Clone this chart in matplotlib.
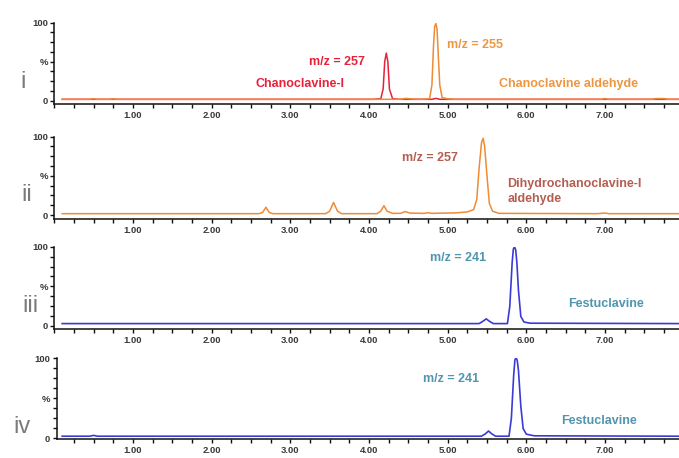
import matplotlib
matplotlib.use("Agg")
import matplotlib.pyplot as plt
from matplotlib.ticker import MultipleLocator, FixedLocator, FixedFormatter

# ----------------------------
# Chromatogram traces (time in min, relative intensity in %)
# ----------------------------
# i: Chanoclavine-I (m/z 257) and chanoclavine aldehyde (m/z 255)
i_red_t = [0.10, 4.05, 4.15, 4.18, 4.20, 4.22, 4.24, 4.26, 4.30, 4.40, 4.80, 4.85, 4.90, 7.94]
i_red_y = [1.8, 1.8, 2.5, 15, 50, 61, 50, 15, 2.5, 1.8, 1.8, 3.0, 1.8, 1.8]
i_org_t = [0.10, 0.45, 0.50, 0.55, 0.70, 0.75, 0.80, 4.40, 4.47, 4.55, 4.65, 4.77, 4.80, 4.82,
           4.835, 4.85, 4.865, 4.88, 4.90, 4.93, 5.00, 5.10, 6.95, 7.00, 7.05, 7.60, 7.65,
           7.75, 7.80, 7.94]
i_org_y = [1.8, 1.8, 2.6, 1.8, 1.8, 2.5, 1.8, 1.8, 3.0, 2.2, 1.8, 2.5, 20, 70,
           95, 99, 92, 60, 20, 4.0, 2.5, 1.8, 1.8, 2.8, 1.8, 1.8, 2.8,
           2.8, 1.8, 1.8]

# ii: Dihydrochanoclavine-I aldehyde (m/z 257)
ii_t = [0.10, 2.60, 2.65, 2.69, 2.73, 2.78, 3.45, 3.50, 3.55, 3.60, 3.65, 4.10, 4.15, 4.19,
        4.23, 4.30, 4.40, 4.46, 4.52, 4.70, 4.75, 4.80, 5.10, 5.25, 5.33, 5.37, 5.40, 5.43,
        5.45, 5.47, 5.50, 5.53, 5.57, 5.65, 6.90, 7.00, 7.05, 7.94]
ii_y = [1.8, 1.8, 3.5, 10, 3.5, 1.8, 1.8, 5.0, 16, 5.0, 1.8, 1.8, 5.0, 12,
        5.0, 2.2, 2.2, 4.5, 2.5, 2.2, 3.0, 2.2, 2.8, 4.0, 7.0, 20, 60, 92,
        98, 88, 50, 15, 5.0, 2.2, 1.8, 2.6, 1.8, 1.8]

# iii: Festuclavine (m/z 241)
iii_t = [0.10, 5.40, 5.45, 5.49, 5.53, 5.58, 5.76, 5.79, 5.82, 5.835, 5.85, 5.865, 5.88, 5.90,
         5.93, 5.97, 6.05, 7.94]
iii_y = [3.0, 3.0, 6.0, 9.0, 6.0, 3.0, 3.0, 25, 80, 97, 100, 96, 80, 45,
         12, 5.0, 3.5, 3.0]

# iv: Festuclavine (m/z 241)
iv_t = [0.10, 0.45, 0.50, 0.55, 5.43, 5.48, 5.52, 5.56, 5.61, 5.78, 5.81, 5.84, 5.855, 5.87,
        5.885, 5.90, 5.93, 5.96, 6.00, 6.10, 7.94]
iv_y = [2.5, 2.5, 3.5, 2.5, 2.5, 5.5, 9.0, 5.5, 2.5, 2.5, 25, 80, 98, 101,
        97, 85, 40, 12, 5.0, 3.0, 2.5]

# ----------------------------
# Styling
# ----------------------------
RED = "#e8213b"
ORANGE = "#f08a34"
ORANGE_TXT = "#ee9640"
BROWN_TXT = "#b45e52"
BLUE = "#3c3ad6"
TEAL_TXT = "#4f96ae"

plt.rcParams["font.family"] = ["Liberation Sans", "DejaVu Sans"]

W, H = 679, 458
fig = plt.figure(figsize=(W / 100, H / 100), dpi=100)

X0_PX = 54.3          # pixel of t = 0
PX_PER_MIN = 78.67
XMAX = (W - X0_PX) / PX_PER_MIN

# (left px, top px, bottom px, ymin) for each panel
panels = [(54.3, 22.7, 104.0, -4.2), (54.3, 136.7, 219.0, -5.0),
          (54.3, 246.7, 329.3, -4.2), (56.5, 358.3, 439.0, -1.0)]


def make_axes(left, top, bottom, ymin):
    ax = fig.add_axes([left / W, 1 - bottom / H, (W - left) / W, (bottom - top) / H])
    ax.set_xlim((left - X0_PX) / PX_PER_MIN, XMAX)
    ax.set_ylim(ymin, 100)
    for s in ("top", "right"):
        ax.spines[s].set_visible(False)
    for s in ("left", "bottom"):
        ax.spines[s].set_linewidth(1.1)
        ax.spines[s].set_color("#111111")
    ax.xaxis.set_major_locator(MultipleLocator(0.25))
    ax.xaxis.set_major_formatter(
        plt.FuncFormatter(lambda v, p: f"{v:.2f}" if abs(v - round(v)) < 1e-6 and round(v) > 0 else "")
    )
    ax.yaxis.set_major_locator(FixedLocator([0, 12.5, 25, 37.5, 50, 62.5, 75, 87.5, 100]))
    ax.yaxis.set_major_formatter(FixedFormatter(["0", "", "", "", "%", "", "", "", "100"]))
    ax.tick_params(axis="both", direction="out", length=3.2, width=1.0, color="#111111",
                   labelsize=6.8, labelcolor="#3a3a3a", pad=1.5)
    for lbl in ax.get_xticklabels() + ax.get_yticklabels():
        lbl.set_fontweight("bold")
    ax.patch.set_alpha(0)
    return ax


axes = [make_axes(*p) for p in panels]
lbl_kw = dict(fontsize=9, fontweight="bold", va="center")

# Panel i
ax = axes[0]
ax.plot(i_red_t, i_red_y, color=RED, lw=1.1)
ax.plot(i_org_t, i_org_y, color=ORANGE, lw=1.1)
ax.text(3.59, 50, "m/z = 257", color=RED, ha="center", **lbl_kw)
ax.text(3.12, 22, "Chanoclavine-I", color=RED, ha="center", **lbl_kw)
ax.text(5.35, 71, "m/z = 255", color=ORANGE_TXT, ha="center", **lbl_kw)
ax.text(6.53, 22, "Chanoclavine aldehyde", color=ORANGE_TXT, ha="center", **lbl_kw)

# Panel ii
ax = axes[1]
ax.plot(ii_t, ii_y, color=ORANGE, lw=1.1)
ax.text(4.78, 73, "m/z = 257", color=BROWN_TXT, ha="center", **lbl_kw)
ax.text(5.76, 40, "Dihydrochanoclavine-I", color=BROWN_TXT, ha="left", **lbl_kw)
ax.text(5.76, 21, "aldehyde", color=BROWN_TXT, ha="left", **lbl_kw)

# Panel iii
ax = axes[2]
ax.plot(iii_t, iii_y, color=BLUE, lw=1.2)
ax.text(5.13, 86, "m/z = 241", color=TEAL_TXT, ha="center", **lbl_kw)
ax.text(7.01, 28, "Festuclavine", color=TEAL_TXT, ha="center", **lbl_kw)

# Panel iv
ax = axes[3]
ax.plot(iv_t, iv_y, color=BLUE, lw=1.2)
ax.text(5.04, 74, "m/z = 241", color=TEAL_TXT, ha="center", **lbl_kw)
ax.text(6.92, 21, "Festuclavine", color=TEAL_TXT, ha="center", **lbl_kw)

# Panel numerals
for label, (xp, yp) in zip(["i", "ii", "iii", "iv"], [(23, 82), (27, 195), (30, 306), (22, 427)]):
    fig.text(xp / W, 1 - yp / H, label, color="#7a7a7a", fontsize=17, ha="center", va="center")

fig.savefig("out.png", dpi=100)
